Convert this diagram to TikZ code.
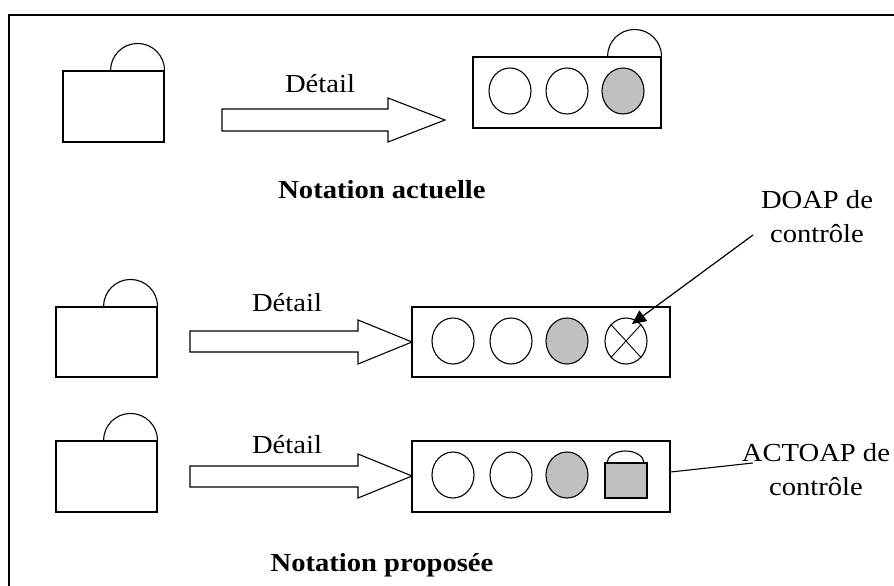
\documentclass[tikz,border=0pt]{standalone}
\usepackage{fontspec}
\setmainfont{Liberation Serif}[FakeStretch=1.1]
\usetikzlibrary{shapes.geometric,arrows.meta}
\definecolor{portgrey}{HTML}{C0C0C0}

\begin{document}
\begin{tikzpicture}[x=1pt,y=-1pt,line width=1.1pt,
  box/.style={draw,rectangle,inner sep=0pt},
  port/.style={draw,ellipse,minimum width=42pt,minimum height=46pt,inner sep=0pt},
  shaded/.style={port,fill=portgrey},
  lbl/.style={font=\fontsize{26}{34}\selectfont,align=center,inner sep=0pt},
  heading/.style={font=\fontsize{26}{30}\selectfont\bfseries,inner sep=0pt},
  hollow/.style={draw,line width=1.1pt,fill=white}]

\useasboundingbox (0,0) rectangle (894,586);

% outer frame (runs past the right and bottom edges)
\draw[line width=1.3pt] (9,15) rectangle (1000,700);

% ---------- current notation ----------
\node[box,minimum width=101pt,minimum height=71pt] (s1) at (113.5,106.5) {};
\draw (s1.north east) arc[start angle=0,end angle=-180,radius=27];

\coordinate (a1s) at (222,120);
\coordinate (a1t) at (445,120);
\draw[hollow] (a1s) ++(0,-11) -- (388,109) -- (388,98) -- (a1t) -- (388,142) -- (388,131) -- (222,131) -- cycle;
\node[lbl] (d1) at (320,84) {Détail};

\node[box,minimum width=188pt,minimum height=71pt] (c1) at (567,92.5) {};
\draw (c1.north east) arc[start angle=0,end angle=-180,radius=27];
\node[port] (p11) at (510,91) {};
\node[port] (p12) at (567,91) {};
\node[shaded] (p13) at (623,91) {};

\node[heading] (t1) at (382,190) {Notation actuelle};

% ---------- proposed notation: control DOAP ----------
\node[box,minimum width=101pt,minimum height=70pt] (s2) at (106.5,342) {};
\draw (s2.north east) arc[start angle=0,end angle=-180,radius=27];

\coordinate (a2t) at (412,342);
\draw[hollow] (190,331) -- (358,331) -- (358,320) -- (a2t) -- (358,364) -- (358,352) -- (190,352) -- cycle;
\node[lbl] (d2) at (287,303) {Détail};

\node[box,minimum width=258pt,minimum height=70pt] (c2) at (541,342) {};
\node[port] (p21) at (453,341) {};
\node[port] (p22) at (511,341) {};
\node[shaded] (p23) at (567,341) {};
\node[port] (p24) at (626,341) {};
\draw[line width=0.9pt] (p24.north east) -- (p24.south west);
\draw[line width=0.9pt] (p24.north west) -- (p24.south east);

\node[lbl] (doap) at (817,217) {DOAP de\\contrôle};
\coordinate (doapfoot) at (753,235);
\coordinate (doaptip) at (632,324);
\draw[line width=1.2pt,-{Triangle[length=14pt,width=13pt]}] (doapfoot) -- (doaptip);

% ---------- proposed notation: control ACTOAP ----------
\node[box,minimum width=101pt,minimum height=71pt] (s3) at (106.5,476.5) {};
\draw (s3.north east) arc[start angle=0,end angle=-180,radius=27];

\coordinate (a3t) at (412,476);
\draw[hollow] (190,466) -- (358,466) -- (358,454) -- (a3t) -- (358,498) -- (358,487) -- (190,487) -- cycle;
\node[lbl] (d3) at (287,445) {Détail};

\node[box,minimum width=258pt,minimum height=71pt] (c3) at (541,476.5) {};
\node[port] (p31) at (453,475) {};
\node[port] (p32) at (511,475) {};
\node[shaded] (p33) at (567,475) {};
\node[box,fill=portgrey,minimum width=42pt,minimum height=35pt] (q34) at (626,480.5) {};
\draw (644,463) arc[start angle=0,end angle=-180,x radius=18.5,y radius=12];

\node[lbl] (actoap) at (816,470) {ACTOAP de\\contrôle};
\coordinate (actoapfoot) at (753,463);
\draw (c3.east |- 0,472) -- (actoapfoot);

\node[heading] (t2) at (382,565) {Notation proposée};
\end{tikzpicture}
\end{document}
